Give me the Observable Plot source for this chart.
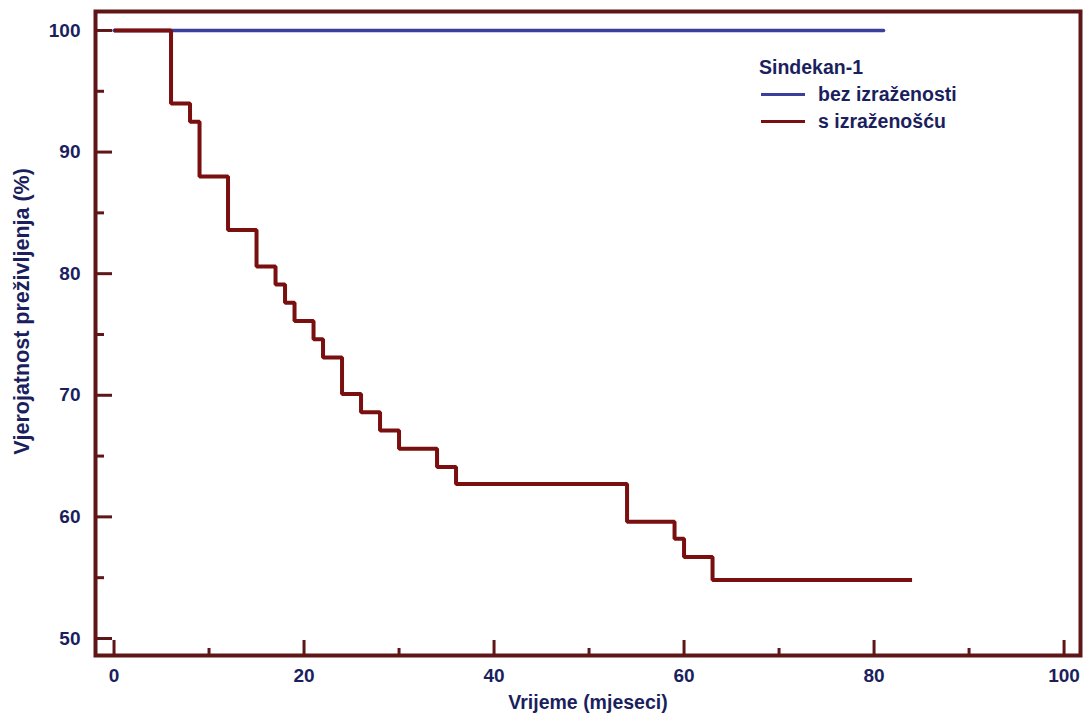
<!DOCTYPE html>
<html>
<head>
<meta charset="utf-8">
<script src="https://cdn.jsdelivr.net/npm/d3@7"></script>
<script src="https://cdn.jsdelivr.net/npm/@observablehq/plot@0.6"></script>
<style>
  body { margin: 0; background: white; }
  #wrap { position: relative; width: 1088px; height: 725px; font-family: 'Liberation Sans', Arial, sans-serif; }
  #legend { position: absolute; left: 759px; top: 54px; color: #1b1f5e; font-size: 19.5px; font-weight: bold; line-height: 27px; }
  #legend .row { display: flex; align-items: center; }
  #legend .sw { width: 44px; height: 3px; margin-right: 13px; margin-left: 2px; }
</style>
</head>
<body>
<div id="wrap"></div>
<script>
const xMajor = [0, 20, 40, 60, 80, 100];
const xMinor = [10, 30, 50, 70, 90];
const yMajor = [50, 60, 70, 80, 90, 100];
const yMinor = [55, 65, 75, 85, 95];

const redTimes  = [0, 6, 8, 9, 12, 15, 17, 18, 19, 21, 22, 24, 26, 28, 30, 34, 36, 54, 59, 60, 63, 84];
const redValues = [100, 94.0, 92.5, 88.0, 83.6, 80.6, 79.1, 77.6, 76.1, 74.6, 73.1, 70.1, 68.6, 67.1, 65.6, 64.1, 62.7, 59.6, 58.2, 56.7, 54.8, 54.8];
const blueTimes  = [0, 81];
const blueValues = [100, 100];

const seriesNames = ["bez izraženosti", "s izraženošću"];
const legendTitle = "Sindekan-1";
const xLabel = "Vrijeme (mjeseci)";
const yLabel = "Vjerojatnost preživljenja (%)";

const blueColor = "#3b3f9c";
const redColor = "#7a0f0f";
const frameColor = "#5e1616";
const textColor = "#1b1f5e";

const W = 1088, H = 725, mL = 95, mR = 8, mT = 11, mB = 70;
const plotW = W - mL - mR, plotH = H - mT - mB;

const red = redTimes.map((t, i) => ({t, v: redValues[i]}));
const blue = blueTimes.map((t, i) => ({t, v: blueValues[i]}));

const chart = Plot.plot({
  width: W, height: H,
  marginLeft: mL, marginRight: mR, marginTop: mT, marginBottom: mB,
  x: {domain: [-1.95, 101.73]},
  y: {domain: [48.6, 101.56]},
  style: {fontFamily: "'Liberation Sans', Arial, sans-serif", fontSize: "19px", fontWeight: "bold", color: textColor, background: "white"},
  marks: [
    Plot.axisX(xMajor, {tickSize: 0, tickPadding: 13, label: null, fill: textColor, fontWeight: "bold"}),
    Plot.axisY(yMajor, {tickSize: 0, tickPadding: 15, label: null, fill: textColor, fontWeight: "bold"}),
    Plot.tickX(xMajor, {x: d => d, insetTop: plotH - 15, stroke: frameColor, strokeWidth: 3}),
    Plot.tickX(xMinor, {x: d => d, insetTop: plotH - 7, stroke: frameColor, strokeWidth: 3}),
    Plot.tickY(yMajor, {y: d => d, insetRight: plotW - 17, stroke: frameColor, strokeWidth: 3}),
    Plot.tickY(yMinor, {y: d => d, insetRight: plotW - 9, stroke: frameColor, strokeWidth: 3}),
    Plot.line(blue, {x: "t", y: "v", curve: "step-after", stroke: blueColor, strokeWidth: 3.5}),
    Plot.line(red, {x: "t", y: "v", curve: "step-after", stroke: redColor, strokeWidth: 4, strokeLinejoin: "miter", strokeLinecap: "butt"}),
    Plot.frame({stroke: frameColor, strokeWidth: 4}),
    Plot.text([xLabel], {frameAnchor: "bottom", dy: 53, fill: textColor, fontSize: 19.5, fontWeight: "bold"}),
    Plot.text([yLabel], {frameAnchor: "left", textAnchor: "middle", dx: -73, dy: -22, rotate: -90, fill: textColor, fontSize: 21.5, fontWeight: "bold"})
  ]
});

const wrap = document.getElementById("wrap");
wrap.appendChild(chart);

const legend = document.createElement("div");
legend.id = "legend";
legend.innerHTML = `<div>${legendTitle}</div>` +
  `<div class="row"><span class="sw" style="background:${blueColor}"></span>${seriesNames[0]}</div>` +
  `<div class="row"><span class="sw" style="background:${redColor}"></span>${seriesNames[1]}</div>`;
wrap.appendChild(legend);
</script>
</body>
</html>
